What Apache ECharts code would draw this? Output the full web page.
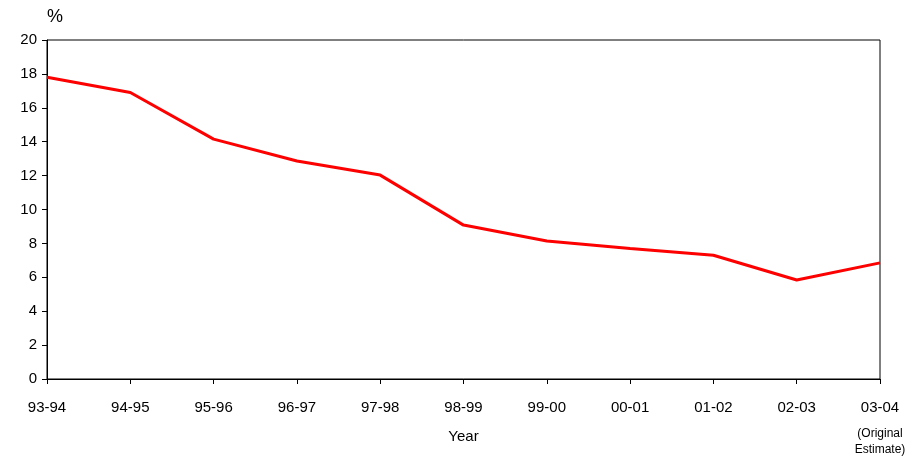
<!DOCTYPE html>
<html>
<head>
<meta charset="utf-8">
<script src="https://cdn.jsdelivr.net/npm/echarts@6/dist/echarts.min.js"></script>
<style>html,body{margin:0;padding:0;background:#fff}</style>
</head>
<body>
<div id="chart" style="width:917px;height:461px"></div>
<script>
const years = ['93-94','94-95','95-96','96-97','97-98','98-99','99-00','00-01','01-02','02-03','03-04'];
const rates = [17.8, 16.9, 14.15, 12.86, 12.03, 9.08, 8.14, 7.7, 7.3, 5.84, 6.85];
const yTicks = [0, 20, 2];

const chart = echarts.init(document.getElementById('chart'));
chart.setOption({
  animation: false,
  textStyle: { fontFamily: 'Liberation Sans, Arial, sans-serif' },
  grid: { left: 47, right: 37, top: 40, bottom: 82, show: true, borderColor: '#000', borderWidth: 1,
          containLabel: false, outerBoundsMode: 'none' },
  xAxis: {
    type: 'category', data: years, boundaryGap: false,
    name: 'Year', nameLocation: 'middle', nameGap: 58, nameMoveOverlap: false,
    nameTextStyle: { color: '#000', fontSize: 15, verticalAlign: 'middle' },
    axisLine: { lineStyle: { color: '#000' } },
    axisTick: { alignWithLabel: true, length: 5, lineStyle: { color: '#000' } },
    axisLabel: {
      color: '#000', fontSize: 15, margin: 21, interval: 0, verticalAlign: 'top',
      formatter: (v, i) => i === years.length - 1 ? v + '\n{g|}\n{s|(Original}\n{s|Estimate)}' : v,
      rich: { s: { fontSize: 12, lineHeight: 16, color: '#000' }, g: { lineHeight: 11 } }
    },
    splitLine: { show: false }
  },
  yAxis: {
    type: 'value', min: yTicks[0], max: yTicks[1], interval: yTicks[2],
    name: '%', nameLocation: 'end', nameGap: 14,
    nameTextStyle: { color: '#000', fontSize: 18, align: 'left' },
    axisLine: { show: true, lineStyle: { color: '#000' } },
    axisTick: { show: true, length: 5, lineStyle: { color: '#000' } },
    axisLabel: { color: '#000', fontSize: 15, margin: 10 },
    splitLine: { show: false }
  },
  series: [{
    type: 'line', data: rates, symbol: 'none',
    lineStyle: { color: '#ff0000', width: 3 }
  }]
});
</script>
</body>
</html>
